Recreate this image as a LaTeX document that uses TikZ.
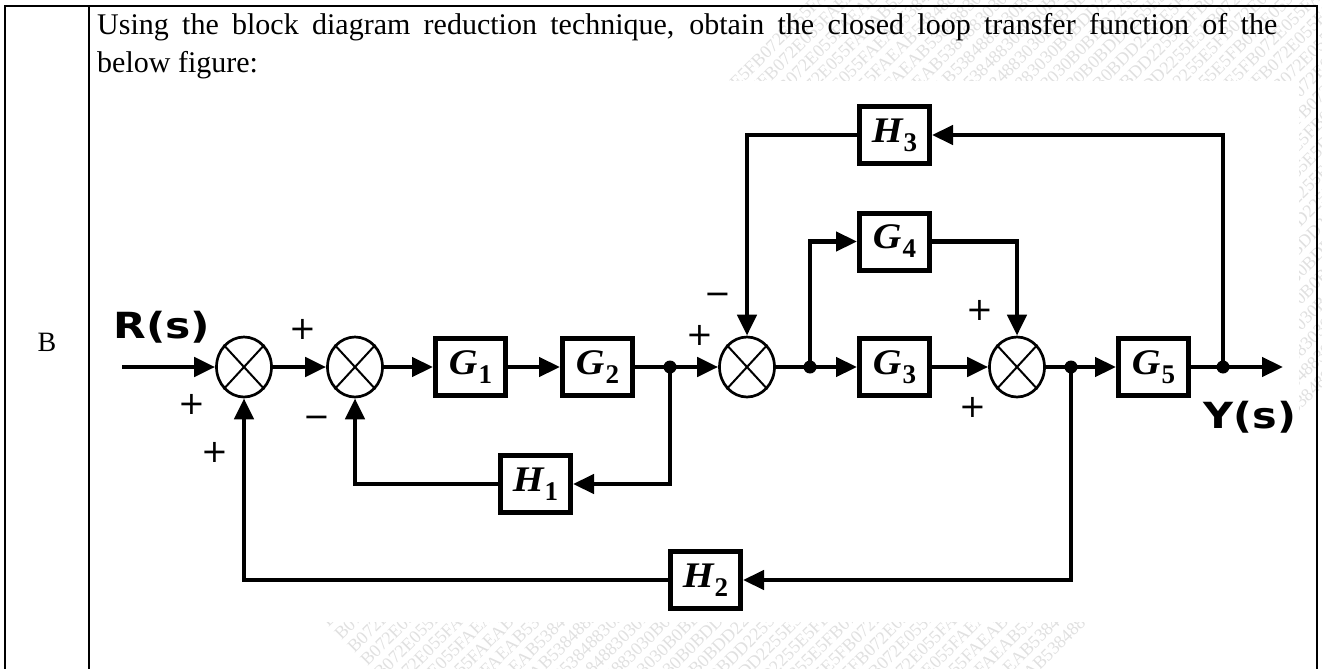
\documentclass[tikz,border=0pt]{standalone}
\usepackage{fontspec}
\setmainfont{Liberation Serif}
\newfontfamily\dejavu{DejaVu Sans}
\usetikzlibrary{arrows.meta,shapes.geometric}
\newcommand\blab[2]{\scalebox{1.1}[1]{\fontsize{36}{36}\selectfont\bfseries\itshape #1}\kern1pt\raisebox{-9pt}{\fontsize{27}{27}\selectfont\bfseries #2}}
\newcommand\wmstr{B072E055FAEAB5384883030B0BDD2255E5FB072E055FAEAB5384883030B0BDD2255E5FB072E055FAEAB5384883030B0BDD2255E5FB072E055FAEAB53848}
\begin{document}
\begin{tikzpicture}[x=1pt,y=-1pt,
  wire/.style={line width=4.5pt},
  arr/.style={wire,-{Triangle[length=21pt,width=19pt]}},
  blk/.style={draw,line width=5pt,minimum width=70pt,minimum height=57pt,inner sep=0pt},
  sumj/.style={draw,ellipse,line width=2.7pt,minimum width=55pt,minimum height=60pt,inner sep=0pt},
  dot/.style={circle,fill,inner sep=0pt,minimum size=13pt},
  sgn/.style={anchor=base,inner sep=0pt,font=\dejavu\fontsize{32}{32}\selectfont},
  sig/.style={anchor=base,inner sep=0pt,font=\dejavu\bfseries\fontsize{36}{36}\selectfont},
  tbl/.style={line width=2pt},
  qtext/.style={anchor=base west,inner sep=0pt,font=\fontsize{30}{30}\selectfont},
  wm/.style={text=black!12,inner sep=0pt,rotate=45,font=\fontsize{18}{18}\selectfont}
]
\useasboundingbox (0,0) rectangle (1322,669);

% watermark (hidden behind the figure's white background)
\begin{scope}
\clip (0,0) rectangle (1322,669);
\foreach \k in {0,...,34}{
  \node[wm] (w\k) at ({915+13*(\k-17)},{345+13*(\k-17)}) {\wmstr};
}
\end{scope}
\fill[white] (91,81) rectangle (1299,622);

% table
\draw[tbl] (5,669) -- (5,6) -- (1317,6) -- (1317,669);
\draw[tbl] (89,6) -- (89,669);
\node[anchor=base,inner sep=0pt,font=\fontsize{28}{28}\selectfont] (lbl) at (47,351) {B};
\node[qtext] (q1) at (97,35)
  {\makebox[1180pt][s]{Using the block diagram reduction technique, obtain the closed loop transfer function of the}};
\node[qtext] (q2) at (97,72) {below figure:};

% summing junctions
\foreach \n/\x in {s1/244,s2/355,s3/747,s4/1017}{
  \node[sumj] (\n) at (\x,367) {};
  \draw[line width=2pt] (\n.north east) -- (\n.south west) (\n.north west) -- (\n.south east);
}

% blocks
\node[blk] (G1) at (470.5,367) {\blab{G}{1}};
\node[blk] (G2) at (597.5,367) {\blab{G}{2}};
\node[blk] (G3) at (894.5,367) {\blab{G}{3}};
\node[blk] (G5) at (1153.5,367) {\blab{G}{5}};
\node[blk] (G4) at (894.5,241.5) {\blab{G}{4}};
\node[blk] (H3) at (894.5,135) {\blab{H}{3}};
\node[blk] (H1) at (535.5,484) {\blab{H}{1}};
\node[blk] (H2) at (705.5,580) {\blab{H}{2}};

% take-off points
\node[dot] (j1) at (670,367) {};
\node[dot] (j2) at (810,367) {};
\node[dot] (j3) at (1071,367) {};
\node[dot] (j4) at (1223,367) {};
\coordinate (in) at (122,367);
\coordinate (out) at (1283,367);

% forward path
\draw[arr] (in) -- (s1.west);
\draw[arr] (s1.east) -- (s2.west);
\draw[arr] (s2.east) -- (G1.west);
\draw[arr] (G1.east) -- (G2.west);
\draw[wire] (G2.east) -- (j1.center);
\draw[arr] (j1.center) -- (s3.west);
\draw[wire] (s3.east) -- (j2.center);
\draw[arr] (j2.center) -- (G3.west);
\draw[arr] (G3.east) -- (s4.west);
\draw[wire] (s4.east) -- (j3.center);
\draw[arr] (j3.center) -- (G5.west);
\draw[wire] (G5.east) -- (j4.center);
\draw[arr] (j4.center) -- (out);

% feedback / feedforward
\draw[arr] (j1.center) |- (H1.east);
\draw[arr] (H1.west) -| (s2.south);
\draw[arr] (j3.center) |- (H2.east);
\draw[arr] (H2.west) -| (s1.south);
\draw[arr] (j4.center) |- (H3.east);
\draw[arr] (H3.west) -| (s3.north);
\draw[arr] (j2.center) |- (G4.west);
\draw[arr] (G4.east) -| (s4.north);

% signals
\node[sig,anchor=base] (R) at (162,338) {\scalebox{1.18}[1]{R(s)}};
\node[sig,anchor=base] (Y) at (1250,428) {\scalebox{1.15}[1]{Y(s)}};

% signs
\node[sgn] (p1) at (192,414) {+};
\node[sgn] (p2) at (215,462) {+};
\node[sgn] (p3) at (303,339) {+};
\node[sgn] (m1) at (317,427) {−};
\node[sgn] (p4) at (700,345) {+};
\node[sgn] (m2) at (718,304) {−};
\node[sgn] (p5) at (980,320) {+};
\node[sgn] (p6) at (973,417) {+};
\end{tikzpicture}
\end{document}
